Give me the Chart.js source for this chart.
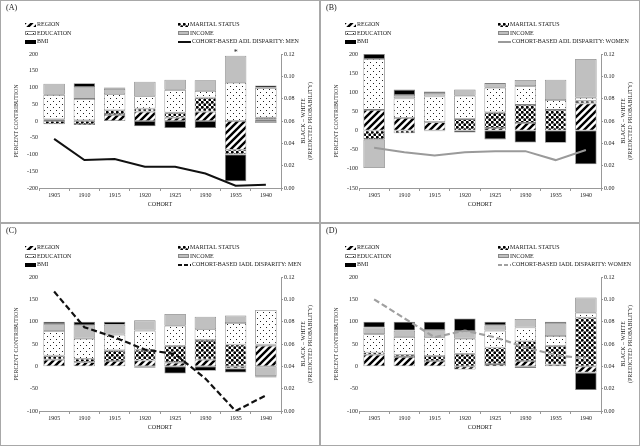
<!DOCTYPE html>
<html lang="en">
<head>
<meta charset="UTF-8">
<meta name="viewport" content="width=device-width, initial-scale=1.0">
<title>Cohort decomposition of Black-White disparity</title>
<script src="https://cdn.jsdelivr.net/npm/chart.js"></script>
<style>
  body { margin: 0; background: #fff; }
  #wrap { position: relative; width: 640px; height: 446px; font-family: "Liberation Serif", serif; color: #222; }
  .panel { position: absolute; width: 320px; height: 223px; box-sizing: border-box; border: 1px solid #a8a8a8; background: #fff; }
  .panel canvas { position: absolute; left: 0; top: 0; }
  .tag { position: absolute; left: 5px; top: 2px; font-size: 8px; }
  .item { position: absolute; font-size: 6px; line-height: 8px; white-space: nowrap; }
  .sw { display: inline-block; width: 11px; height: 4px; vertical-align: middle; margin-right: 1px; box-sizing: border-box; }
</style>
</head>
<body>
<div id="wrap"></div>
<script>
const cohorts = ['1905', '1910', '1915', '1920', '1925', '1930', '1935', '1940'];

// (A) ADL, men
const regionA    = [5, 2, 18, 28, 10, 28, -86, 4];
const maritalA   = [-10, -12, 14, 9, 15, 42, -14, 6];
const educationA = [73, 64, 48, 37, 68, 20, 114, 89];
const incomeA    = [33, 35, 16, 43, 30, 32, 81, -6];
const bmiA       = [0, 12, 4, -16, -21, -21, -80, 7];
const lineA      = [0.044, 0.025, 0.026, 0.019, 0.019, 0.013, 0.002, 0.003];

// (B) ADL, women
const regionB    = [54, 33, 22, 0, 7, 20, 0, 71];
const maritalB   = [-24, -7, -2, 30, 41, 47, 54, 7];
const educationB = [133, 51, 67, 61, 64, 49, 26, 8];
const incomeB    = [-74, 9, 9, 16, 12, 16, 53, 101];
const bmiB       = [13, 14, 4, -5, -23, -31, -32, -88];
const lineB      = [0.036, 0.032, 0.029, 0.032, 0.033, 0.033, 0.025, 0.034];

// (C) IADL, men
const regionC    = [15, 9, 12, 13, 8, 15, -5, 46];
const maritalC   = [9, 8, 24, 24, 38, 44, 49, 3];
const educationC = [55, 45, 35, 43, 45, 24, 48, 77];
const incomeC    = [16, 30, 22, 23, 26, 28, 17, -22];
const bmiC       = [5, 8, 7, -3, -16, -10, -9, -3];
const lineC      = [0.107, 0.075, 0.066, 0.055, 0.051, 0.029, 0.000, 0.014];

// (D) IADL, women
const regionD    = [26, 21, 12, -7, 5, 12, 4, -14];
const maritalD   = [5, 5, 11, 28, 37, 44, 42, 109];
const educationD = [41, 40, 42, 34, 38, 31, 22, 11];
const incomeD    = [15, 14, 16, 17, 12, 19, 29, 34];
const bmiD       = [13, 20, 19, 28, 8, -4, 3, -39];
const lineD      = [0.100, 0.083, 0.066, 0.072, 0.066, 0.057, 0.050, 0.047];

const leftTicks = { A: [-200, 200], B: [-150, 200], C: [-100, 200], D: [-100, 200] };
const rightTitle = ['BLACK \u2013 WHITE', '(PREDICTED PROBABILITY)'];

Chart.defaults.font.family = "'Liberation Serif', serif";
Chart.defaults.font.size = 6;
Chart.defaults.color = '#222';

// pattern tiles
function tile(kind) {
  const c = document.createElement('canvas');
  const g = c.getContext('2d');
  if (kind === 'region') {
    c.width = c.height = 7;
    g.fillStyle = '#fff'; g.fillRect(0, 0, 7, 7);
    g.strokeStyle = '#000'; g.lineWidth = 2.4;
    g.beginPath();
    for (const k of [0, 7, 14]) { g.moveTo(k - 8, 8); g.lineTo(k + 1, -1); }
    g.stroke();
  } else if (kind === 'marital') {
    c.width = c.height = 5;
    g.fillStyle = '#fff'; g.fillRect(0, 0, 5, 5);
    g.fillStyle = '#000';
    g.beginPath(); g.arc(1.25, 1.25, 1.45, 0, Math.PI * 2); g.fill();
    g.beginPath(); g.arc(3.75, 3.75, 1.45, 0, Math.PI * 2); g.fill();
  } else if (kind === 'education') {
    c.width = c.height = 6;
    g.fillStyle = '#fff'; g.fillRect(0, 0, 6, 6);
    g.fillStyle = '#222';
    g.fillRect(1, 1, 1, 1);
    g.fillRect(4, 4, 1, 1);
  }
  return c;
}
const tiles = { region: tile('region'), marital: tile('marital'), education: tile('education') };

const panels = [
  { id: 'A', left: 0, top: 0, data: [regionA, maritalA, educationA, incomeA, bmiA], line: lineA,
    lineLabel: 'COHORT-BASED ADL DISPARITY: MEN', lineColor: '#111', dash: [], lineWidth: 2, star: true },
  { id: 'B', left: 320, top: 0, data: [regionB, maritalB, educationB, incomeB, bmiB], line: lineB,
    lineLabel: 'COHORT-BASED ADL DISPARITY: WOMEN', lineColor: '#9a9a9a', dash: [], lineWidth: 2 },
  { id: 'C', left: 0, top: 223, data: [regionC, maritalC, educationC, incomeC, bmiC], line: lineC,
    lineLabel: 'COHORT-BASED IADL DISPARITY: MEN', lineColor: '#111', dash: [6, 3], lineWidth: 2.2 },
  { id: 'D', left: 320, top: 223, data: [regionD, maritalD, educationD, incomeD, bmiD], line: lineD,
    lineLabel: 'COHORT-BASED IADL DISPARITY: WOMEN', lineColor: '#a0a0a0', dash: [6, 3], lineWidth: 2.2 }
];

const extras = {
  id: 'extras',
  afterDraw(chart, args, opts) {
    const { ctx, chartArea } = chart;
    ctx.save();
    ctx.fillStyle = '#222';
    ctx.font = "6px 'Liberation Serif'";
    ctx.textAlign = 'center';
    ctx.textBaseline = 'middle';
    ctx.translate(chartArea.right + 22, (chartArea.top + chartArea.bottom) / 2);
    ctx.rotate(-Math.PI / 2);
    ctx.fillText(rightTitle[0], 0, 0);
    ctx.fillText(rightTitle[1], 0, 7);
    ctx.restore();
    if (opts.star) {
      const el = chart.getDatasetMeta(3).data[6];
      ctx.save();
      ctx.fillStyle = '#222';
      ctx.font = "8px 'Liberation Serif'";
      ctx.textAlign = 'center';
      ctx.textBaseline = 'bottom';
      ctx.fillText('*', el.x, el.y + 1);
      ctx.restore();
    }
  }
};

const wrap = document.getElementById('wrap');

panels.forEach(p => {
  const div = document.createElement('div');
  div.className = 'panel';
  div.style.left = p.left + 'px';
  div.style.top = p.top + 'px';
  wrap.appendChild(div);

  const canvas = document.createElement('canvas');
  canvas.width = 318; canvas.height = 221;
  div.appendChild(canvas);

  const tag = document.createElement('div');
  tag.className = 'tag';
  tag.textContent = '(' + p.id + ')';
  div.appendChild(tag);

  const dashCss = 'repeating-linear-gradient(90deg,' + p.lineColor + ' 0 4px, transparent 4px 6px)';
  const items = [
    { x: 24, row: 0, text: 'REGION', bg: 'url(' + tiles.region.toDataURL() + ')' },
    { x: 177, row: 0, text: 'MARITAL STATUS', bg: 'url(' + tiles.marital.toDataURL() + ')' },
    { x: 24, row: 1, text: 'EDUCATION', bg: 'url(' + tiles.education.toDataURL() + ')', border: true },
    { x: 177, row: 1, text: 'INCOME', bg: '#c0c0c0', border: true },
    { x: 24, row: 2, text: 'BMI', bg: '#000' },
    { x: 177, row: 2, text: p.lineLabel, bg: p.dash.length ? dashCss : p.lineColor, line: true }
  ];
  items.forEach(it => {
    const el = document.createElement('div');
    el.className = 'item';
    el.style.left = it.x + 'px';
    el.style.top = (19 + it.row * 8.5) + 'px';
    const sw = document.createElement('span');
    sw.className = 'sw';
    sw.style.background = it.bg;
    if (it.border) sw.style.border = '0.5px solid #888';
    if (it.line) { sw.style.width = '13px'; sw.style.height = '2px'; }
    el.appendChild(sw);
    el.appendChild(document.createTextNode(it.text));
    div.appendChild(el);
  });

  const g = canvas.getContext('2d');
  const fills = [
    g.createPattern(tiles.region, 'repeat'),
    g.createPattern(tiles.marital, 'repeat'),
    g.createPattern(tiles.education, 'repeat'),
    '#c0c0c0',
    '#000'
  ];
  const names = ['REGION', 'MARITAL STATUS', 'EDUCATION', 'INCOME', 'BMI'];
  const datasets = p.data.map((d, i) => ({
    type: 'bar',
    label: names[i],
    data: d,
    backgroundColor: fills[i],
    borderColor: '#808080',
    borderWidth: 0.8,
    borderSkipped: false,
    barPercentage: 0.71,
    categoryPercentage: 1,
    yAxisID: 'y',
    stack: 's',
    order: 1
  }));
  datasets.push({
    type: 'line',
    label: p.lineLabel,
    data: p.line,
    yAxisID: 'y2',
    borderColor: p.lineColor,
    borderWidth: p.lineWidth,
    borderDash: p.dash,
    pointRadius: 0,
    fill: false,
    tension: 0,
    order: 0
  });

  new Chart(canvas, {
    data: { labels: cohorts, datasets },
    plugins: [extras],
    options: {
      responsive: false,
      animation: false,
      layout: { padding: { top: 53, left: 12, right: 6, bottom: 14 } },
      plugins: { legend: { display: false }, tooltip: { enabled: false }, extras: { star: !!p.star } },
      scales: {
        x: {
          stacked: true,
          grid: { display: true, drawOnChartArea: false, offset: true, tickLength: 3, color: '#999' },
          border: { display: true, color: '#999' },
          ticks: { padding: 1 },
          title: { display: true, text: 'COHORT', padding: 0 },
          afterFit(s) { s.height = 20; }
        },
        y: {
          stacked: true,
          min: leftTicks[p.id][0],
          max: leftTicks[p.id][1],
          ticks: { stepSize: 50, padding: 1 },
          grid: { display: false, drawTicks: false },
          border: { display: false },
          title: { display: true, text: 'PERCENT CONTRIBUTION', padding: 0 },
          afterFit(s) { s.width = 26; }
        },
        y2: {
          position: 'right',
          min: 0,
          max: 0.12,
          ticks: { stepSize: 0.02, padding: 1, callback: v => v.toFixed(2) },
          grid: { display: true, drawOnChartArea: false, tickLength: 2, color: '#999' },
          border: { display: true, color: '#999' },
          afterFit(s) { s.width = 32; }
        }
      }
    }
  });
});
</script>
</body>
</html>
